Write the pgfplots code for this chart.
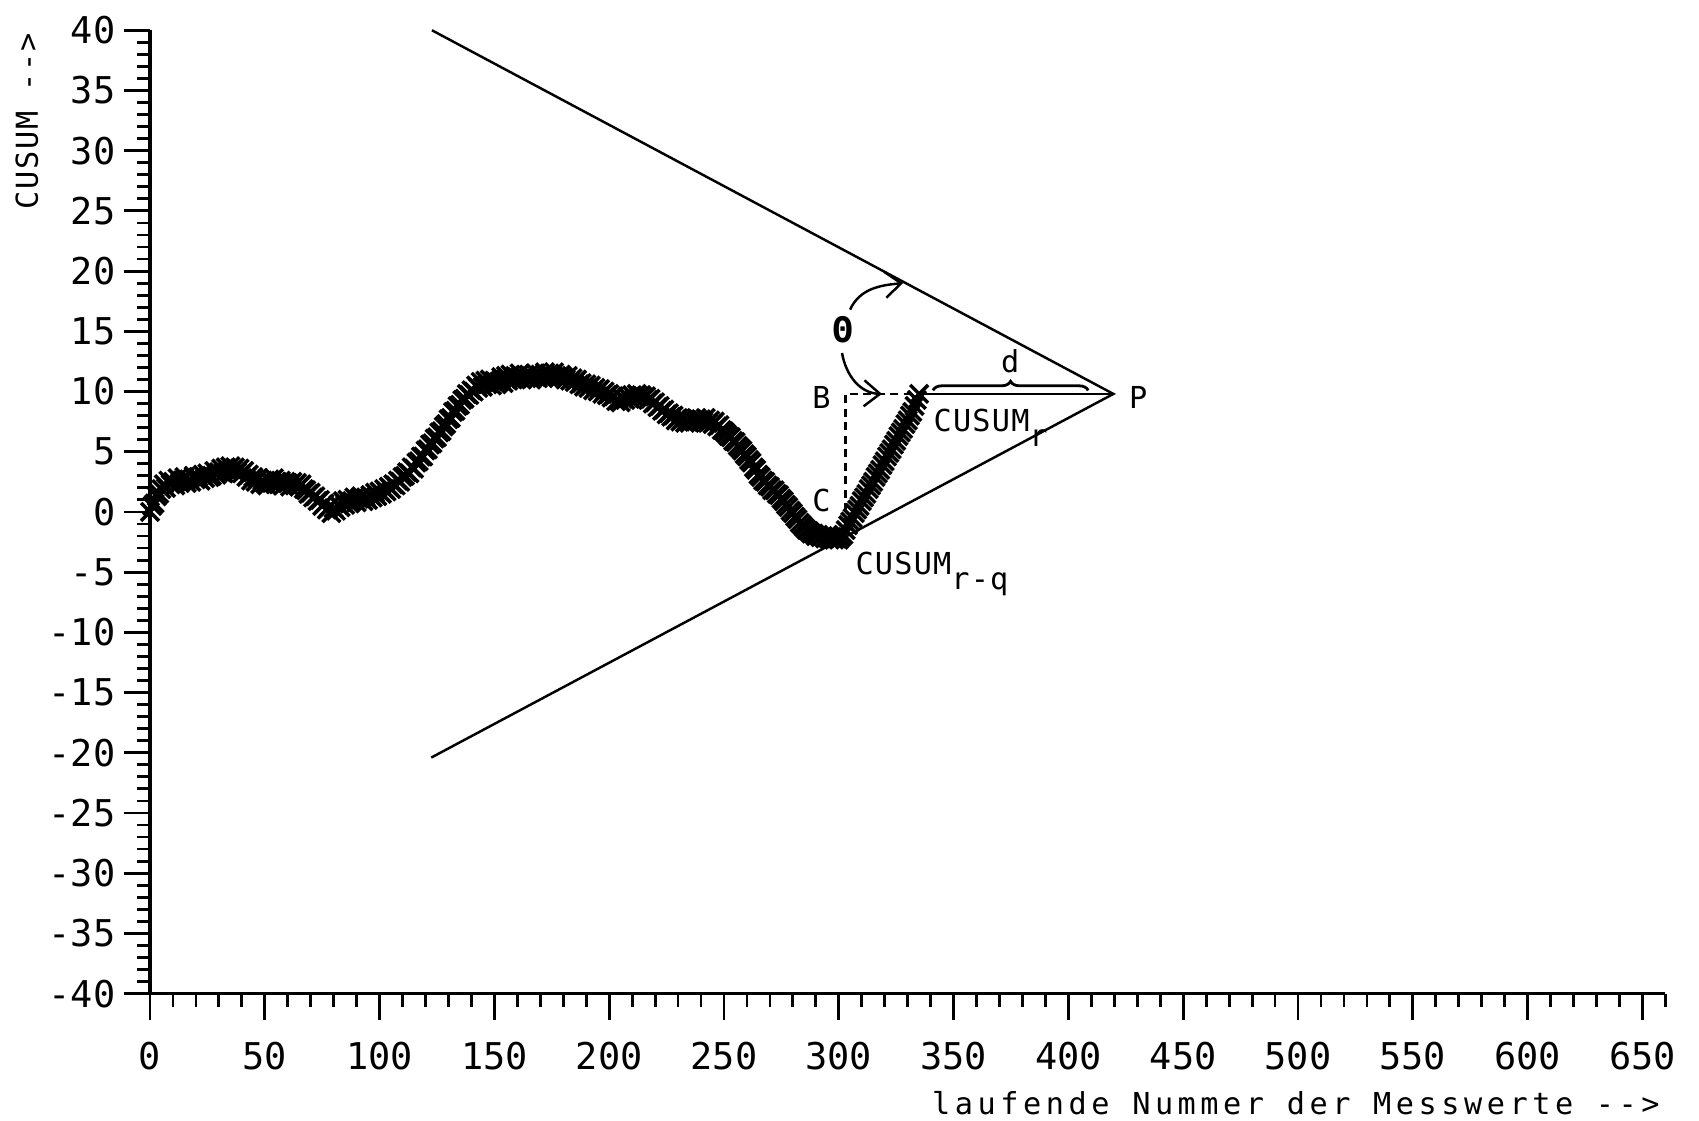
\documentclass[border=0pt]{standalone}
\usepackage{fontspec}
\usepackage{pgfplots}
\pgfplotsset{compat=1.18}
\usepackage{pgfplotstable}
\usetikzlibrary{arrows.meta,decorations.pathreplacing}
\setmainfont{DejaVu Sans Mono}
\newfontfamily\tickfont{DejaVu Sans Mono}
\newfontfamily\labfont[LetterSpace=6]{DejaVu Sans Mono}
\newfontfamily\xlabfont[LetterSpace=15]{DejaVu Sans Mono}
\newfontfamily\annfont[LetterSpace=4]{DejaVu Sans Mono}
\newcommand\tfs{\tickfont\fontsize{10.5pt}{12pt}\selectfont}
\newcommand\lfs{\labfont\fontsize{8.6pt}{10pt}\selectfont}
\newcommand\xlfs{\xlabfont\fontsize{8.6pt}{10pt}\selectfont}
\newcommand\afs{\annfont\fontsize{8.6pt}{10pt}\selectfont}

\pgfplotstableread[row sep=\\]{
x y\\
0 0.0\\ 1 0.5\\ 2 0.7\\ 3 1.3\\ 4 1.5\\ 5 1.9\\ 6 2.3\\ 7 2.0\\ 8 2.6\\ 9 2.3\\
10 2.5\\ 11 2.2\\ 12 2.8\\ 13 2.4\\ 14 2.6\\ 15 2.9\\ 16 2.4\\ 17 2.7\\ 18 2.5\\ 19 3.0\\
20 2.7\\ 21 2.9\\ 22 2.6\\ 23 3.1\\ 24 2.8\\ 25 3.2\\ 26 2.9\\ 27 3.0\\ 28 3.4\\ 29 3.1\\
30 3.3\\ 31 3.6\\ 32 3.2\\ 33 3.7\\ 34 3.4\\ 35 3.8\\ 36 3.5\\ 37 3.7\\ 38 3.3\\ 39 3.6\\
40 3.2\\ 41 3.4\\ 42 2.9\\ 43 3.1\\ 44 2.6\\ 45 2.9\\ 46 2.5\\ 47 2.8\\ 48 2.3\\ 49 2.6\\
50 2.4\\ 51 2.2\\ 52 2.7\\ 53 2.4\\ 54 2.8\\ 55 2.5\\ 56 2.3\\ 57 2.6\\ 58 2.2\\ 59 2.5\\
60 2.4\\ 61 2.1\\ 62 2.5\\ 63 2.2\\ 64 2.4\\ 65 2.1\\ 66 2.3\\ 67 1.9\\ 68 1.8\\ 69 1.5\\
70 1.6\\ 71 1.2\\ 72 1.3\\ 73 0.9\\ 74 1.0\\ 75 0.5\\ 76 0.7\\ 77 0.2\\ 78 0.4\\ 79 -0.1\\
80 0.3\\ 81 0.1\\ 82 0.6\\ 83 0.4\\ 84 0.9\\ 85 0.6\\ 86 1.0\\ 87 0.7\\ 88 0.9\\ 89 1.2\\
90 0.8\\ 91 1.1\\ 92 1.3\\ 93 0.9\\ 94 1.2\\ 95 1.0\\ 96 1.4\\ 97 1.2\\ 98 1.6\\ 99 1.3\\
100 1.7\\ 101 1.5\\ 102 1.9\\ 103 1.7\\ 104 2.1\\ 105 1.9\\ 106 2.3\\ 107 2.2\\ 108 2.6\\ 109 2.5\\
110 2.9\\ 111 3.0\\ 112 3.3\\ 113 3.2\\ 114 3.7\\ 115 3.6\\ 116 4.1\\ 117 4.2\\ 118 4.6\\ 119 4.6\\
120 5.1\\ 121 5.2\\ 122 5.6\\ 123 5.7\\ 124 6.1\\ 125 6.2\\ 126 6.6\\ 127 6.7\\ 128 7.1\\ 129 7.3\\
130 7.7\\ 131 7.8\\ 132 8.3\\ 133 8.4\\ 134 8.8\\ 135 8.9\\ 136 9.3\\ 137 9.4\\ 138 9.8\\ 139 9.7\\
140 10.1\\ 141 10.0\\ 142 10.5\\ 143 10.3\\ 144 10.8\\ 145 10.4\\ 146 10.9\\ 147 10.6\\ 148 11.0\\ 149 10.5\\
150 10.9\\ 151 10.6\\ 152 10.8\\ 153 11.2\\ 154 10.7\\ 155 11.3\\ 156 10.9\\ 157 11.4\\ 158 11.0\\ 159 11.3\\
160 11.1\\ 161 11.5\\ 162 11.0\\ 163 11.3\\ 164 11.1\\ 165 11.4\\ 166 11.0\\ 167 11.2\\ 168 11.5\\ 169 11.1\\
170 11.4\\ 171 11.2\\ 172 11.6\\ 173 11.3\\ 174 11.5\\ 175 11.2\\ 176 11.6\\ 177 11.3\\ 178 11.1\\ 179 11.4\\
180 11.2\\ 181 11.0\\ 182 11.3\\ 183 10.9\\ 184 11.1\\ 185 10.8\\ 186 11.0\\ 187 10.6\\ 188 10.7\\ 189 10.4\\
190 10.6\\ 191 10.3\\ 192 10.5\\ 193 10.1\\ 194 10.3\\ 195 10.0\\ 196 10.2\\ 197 9.8\\ 198 10.0\\ 199 9.7\\
200 9.8\\ 201 9.5\\ 202 9.6\\ 203 9.2\\ 204 9.3\\ 205 9.1\\ 206 9.4\\ 207 9.3\\ 208 9.6\\ 209 9.4\\
210 9.7\\ 211 9.5\\ 212 9.8\\ 213 9.6\\ 214 9.7\\ 215 9.5\\ 216 9.6\\ 217 9.3\\ 218 9.4\\ 219 9.0\\
220 9.1\\ 221 8.7\\ 222 8.8\\ 223 8.4\\ 224 8.5\\ 225 8.1\\ 226 8.2\\ 227 7.9\\ 228 8.0\\ 229 7.6\\
230 7.8\\ 231 7.5\\ 232 7.7\\ 233 7.4\\ 234 7.6\\ 235 7.4\\ 236 7.7\\ 237 7.5\\ 238 7.8\\ 239 7.6\\
240 7.7\\ 241 7.5\\ 242 7.8\\ 243 7.4\\ 244 7.6\\ 245 7.3\\ 246 7.5\\ 247 7.1\\ 248 7.2\\ 249 6.8\\
250 6.7\\ 251 6.5\\ 252 6.3\\ 253 6.2\\ 254 5.9\\ 255 5.8\\ 256 5.5\\ 257 5.3\\ 258 5.1\\ 259 4.8\\
260 4.6\\ 261 4.3\\ 262 4.1\\ 263 3.7\\ 264 3.5\\ 265 3.1\\ 266 2.9\\ 267 2.6\\ 268 2.5\\ 269 2.2\\
270 2.1\\ 271 1.8\\ 272 1.8\\ 273 1.5\\ 274 1.4\\ 275 1.1\\ 276 0.9\\ 277 0.6\\ 278 0.4\\ 279 0.1\\
280 -0.1\\ 281 -0.4\\ 282 -0.6\\ 283 -0.9\\ 284 -1.1\\ 285 -1.3\\ 286 -1.5\\ 287 -1.6\\ 288 -1.8\\ 289 -1.8\\
290 -2.0\\ 291 -1.9\\ 292 -2.1\\ 293 -2.0\\ 294 -2.2\\ 295 -2.1\\ 296 -2.3\\ 297 -2.1\\ 298 -2.3\\ 299 -2.2\\
300 -2.3\\ 301 -2.1\\ 302 -1.9\\ 303 -1.5\\ 304 -1.1\\ 305 -0.8\\ 306 -0.5\\ 307 -0.1\\ 308 0.2\\ 309 0.5\\
310 0.9\\ 311 1.2\\ 312 1.5\\ 313 1.9\\ 314 2.2\\ 315 2.5\\ 316 2.9\\ 317 3.2\\ 318 3.5\\ 319 3.9\\
320 4.2\\ 321 4.6\\ 322 4.9\\ 323 5.2\\ 324 5.6\\ 325 5.9\\ 326 6.3\\ 327 6.6\\ 328 6.9\\ 329 7.3\\
330 7.6\\ 331 8.0\\ 332 8.3\\ 333 8.8\\ 334 9.3\\ 335 9.8\\
}\cusum

\begin{document}
\begin{tikzpicture}
\path[use as bounding box] (-15mm,-12.74mm) rectangle (154.9mm,99.36mm);
\begin{axis}[
  at={(0,0)}, anchor=south west,
  scale only axis, width=151.54mm, height=96.33mm,
  xmin=0, xmax=660, ymin=-40, ymax=40,
  axis lines*=left,
  axis line style={line width=0.9pt},
  tick align=outside,
  xtick={0,50,...,650},
  xticklabels={0,50,100,150,200,250,300,350,400,450,500,550,600,650},
  minor xtick={0,10,...,660},
  ytick={-40,-35,...,40},
  yticklabels={-40,-35,-30,-25,-20,-15,-10,-5,0,5,10,15,20,25,30,35,40},
  minor ytick={-40,-39,...,40},
  major tick length=2.6mm, minor tick length=1.3mm,
  every tick/.style={black, line width=0.8pt},
  xticklabel style={font=\tfs, inner sep=0pt, anchor=north, yshift=-2.2mm},
  yticklabel style={font=\tfs, inner sep=0pt, anchor=east, xshift=-0.8mm},
  xlabel={laufende Nummer der Messwerte -{}-{}>},
  xlabel style={font=\xlfs, at={(axis description cs:0.9967,-0.1136)}, anchor=east, inner sep=0pt},
  ylabel={CUSUM -{}-{}>},
  ylabel style={font=\lfs, at={(axis description cs:-0.0812,0.9975)}, anchor=east, inner sep=0pt},
  clip=false,
]
\addplot[only marks, mark=x, mark size=3.6pt, mark options={line width=1.0pt}] table[x=x,y=y]{\cusum};
\addplot[line width=0.7pt, mark=none] coordinates {(122.8,40) (419.6,9.8) (122.5,-20.4)};
\addplot[line width=0.7pt, mark=none] coordinates {(334,9.8) (419.6,9.8)};
\addplot[line width=0.7pt, mark=none, dash pattern=on 0.8mm off 0.55mm] coordinates {(303,-2.2) (303,9.8) (334,9.8)};
\draw[decorate, decoration={brace, amplitude=0.9mm}, line width=0.8pt] (axis cs:341,10.1) -- (axis cs:408.6,10.1);
\draw[line width=0.7pt, -{Straight Barb[length=1.6mm,width=2.6mm]}] (axis cs:304.9,16.8) to[out=65,in=185] (axis cs:328,19.0);
\draw[line width=0.7pt, -{Straight Barb[length=1.6mm,width=2.6mm]}] (axis cs:301.4,13.2) to[out=-80,in=178] (axis cs:318.8,9.8);
\node[font=\afs, inner sep=0pt] at (axis cs:292.5,9.53) {B};
\node[font=\afs, inner sep=0pt] at (axis cs:292.5,0.94) {C};
\node[font=\afs, inner sep=0pt] at (axis cs:430.4,9.53) {P};
\node[font=\annfont\fontsize{10pt}{12pt}\selectfont\bfseries, inner sep=0pt] at (axis cs:302,15.1) {Θ};
\node[font=\afs, inner sep=0pt] at (axis cs:374.6,12.48) {d};
\node[font=\afs, inner sep=0pt, anchor=base west] at (axis cs:341,6.67) {CUSUM\raisebox{-1.5mm}{r}};
\node[font=\afs, inner sep=0pt, anchor=base west] at (axis cs:307,-5.23) {CUSUM\raisebox{-1.5mm}{r-q}};
\end{axis}
\end{tikzpicture}
\end{document}
